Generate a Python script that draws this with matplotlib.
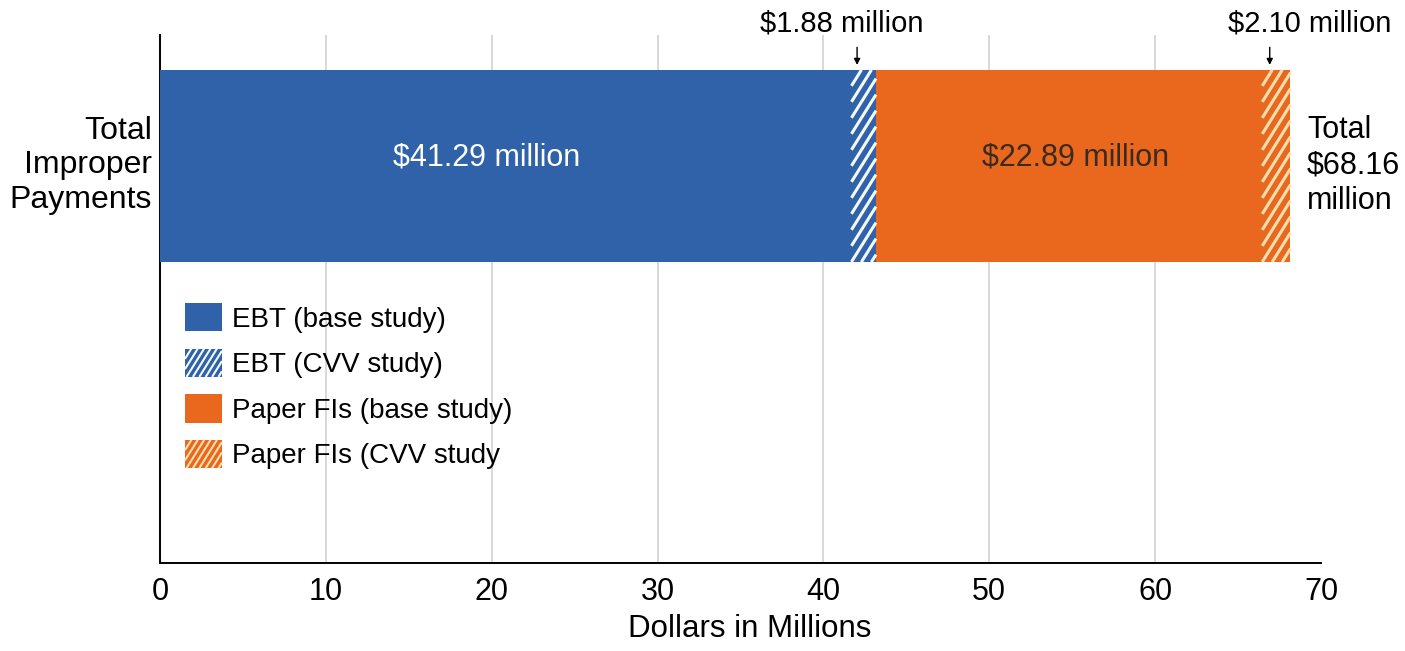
import matplotlib.pyplot as plt
from matplotlib.patches import Patch, Rectangle
from matplotlib.collections import LineCollection
from matplotlib.legend_handler import HandlerBase

plt.rcParams['font.family'] = ['Liberation Sans', 'DejaVu Sans']

# segment values, in millions of dollars
segments = ['EBT (base study)', 'EBT (CVV study)', 'Paper FIs (base study)', 'Paper FIs (CVV study']
values = [41.29, 1.88, 22.89, 2.10]
total = 68.16
fills = ['#2f62a8', '#2f62a8', '#e9681e', '#e9681e']
stripe_cols = [None, '#f4f8ff', None, '#f8dfb0']
xticks = [0, 10, 20, 30, 40, 50, 60, 70]

SLOPE = 1.6  # steep diagonal stripes


def stripes(x0, x1, y0, y1, step):
    # diagonal segments clipped to a box (isotropic units)
    segs = []
    c = x0 - (y1 - y0) / SLOPE
    while c < x1:
        ya = max(y0, y0 + SLOPE * (x0 - c))
        yb = min(y1, y0 + SLOPE * (x1 - c))
        if yb > ya:
            segs.append([(c + (ya - y0) / SLOPE, ya), (c + (yb - y0) / SLOPE, yb)])
        c += step
    return segs


class StripeHandler(HandlerBase):
    def create_artists(self, legend, orig, xd, yd, w, h, fontsize, trans):
        rect = Rectangle((-xd, -yd), w, h, facecolor=orig.get_facecolor(), lw=0, transform=trans)
        segs = stripes(-xd, -xd + w, -yd, -yd + h, 4.6)
        lc = LineCollection(segs, colors=[orig.get_edgecolor()], linewidths=1.5, transform=trans)
        return [rect, lc]


fig = plt.figure(figsize=(14.05, 6.51), dpi=100)
ax = fig.add_axes([0.1139, 0.1352, 0.8263, 0.8110])
ax.set_xlim(0, 70)
ax.set_ylim(0, 1)

# pixel scale of the data units, so the stripes keep a fixed angle
sx = fig.get_figwidth() * fig.dpi * 0.8263 / 70
sy = fig.get_figheight() * fig.dpi * 0.8110

yc, h = 0.752, 0.364
left = 0
handles = []
handler_map = {}
for name, v, fc, sc in zip(segments, values, fills, stripe_cols):
    ax.barh(yc, v, left=left, height=h, color=fc, lw=0, zorder=3)
    if sc is None:
        handles.append(Patch(facecolor=fc, lw=0, label=name))
    else:
        px = stripes((left + 0.4) * sx, (left + v) * sx, (yc - h / 2) * sy, (yc + h / 2) * sy, 10.0)
        segs = [[(a / sx, b / sy) for a, b in s] for s in px]
        ax.add_collection(LineCollection(segs, colors=sc, linewidths=2.2, zorder=4))
        hp = Patch(facecolor=fc, edgecolor=sc, lw=0, label=name)
        handles.append(hp)
        handler_map[hp] = StripeHandler()
    left += v

ax.text(19.67, yc, '$41.29 million', color='white', ha='center', va='baseline', fontsize=22, zorder=5)
ax.text(55.23, yc, '$22.89 million', color='#3a2a20', ha='center', va='baseline', fontsize=22, zorder=5)

# callouts for the two narrow segments
for start, v, tx in [(values[0], values[1], 41.12), (sum(values[:3]), values[3], 69.3)]:
    xc = start + v / 2 - 0.2
    ax.annotate('', xy=(xc, yc + h / 2 + 0.004), xytext=(xc, yc + h / 2 + 0.048),
                arrowprops=dict(arrowstyle='-|>', color='black', lw=1, mutation_scale=9), annotation_clip=False)
    ax.text(tx, 1.006, '$%.2f million' % v, ha='center', va='baseline', fontsize=21, clip_on=False)

ax.text(-0.5, 0.846, 'Total\nImproper\nPayments', ha='right', va='top', fontsize=23, linespacing=1.18)
ax.text(69.15, 0.848, 'Total\n$%.2f\nmillion' % total, ha='left', va='top', fontsize=22, linespacing=1.23)

ax.set_xticks(xticks)
ax.tick_params(axis='x', length=0, labelsize=22, pad=10)
ax.set_yticks([])
ax.grid(axis='x', color='#d2d2d2', lw=1.2, zorder=0)
ax.get_xgridlines()[-1].set_visible(False)
for s in ['top', 'right']:
    ax.spines[s].set_visible(False)
ax.spines['left'].set_linewidth(1.4)
ax.spines['bottom'].set_linewidth(1.4)
ax.set_xlabel('Dollars in Millions', fontsize=22.5, labelpad=5, x=0.508)

ax.legend(handles=handles, handler_map=handler_map, loc='upper left', bbox_to_anchor=(0.0215, 0.4924),
          frameon=False, fontsize=20, handlelength=1.33, handleheight=1.19, handletextpad=0.36,
          labelspacing=0.58, borderaxespad=0, borderpad=0)

fig.savefig('out.png', dpi=100)
